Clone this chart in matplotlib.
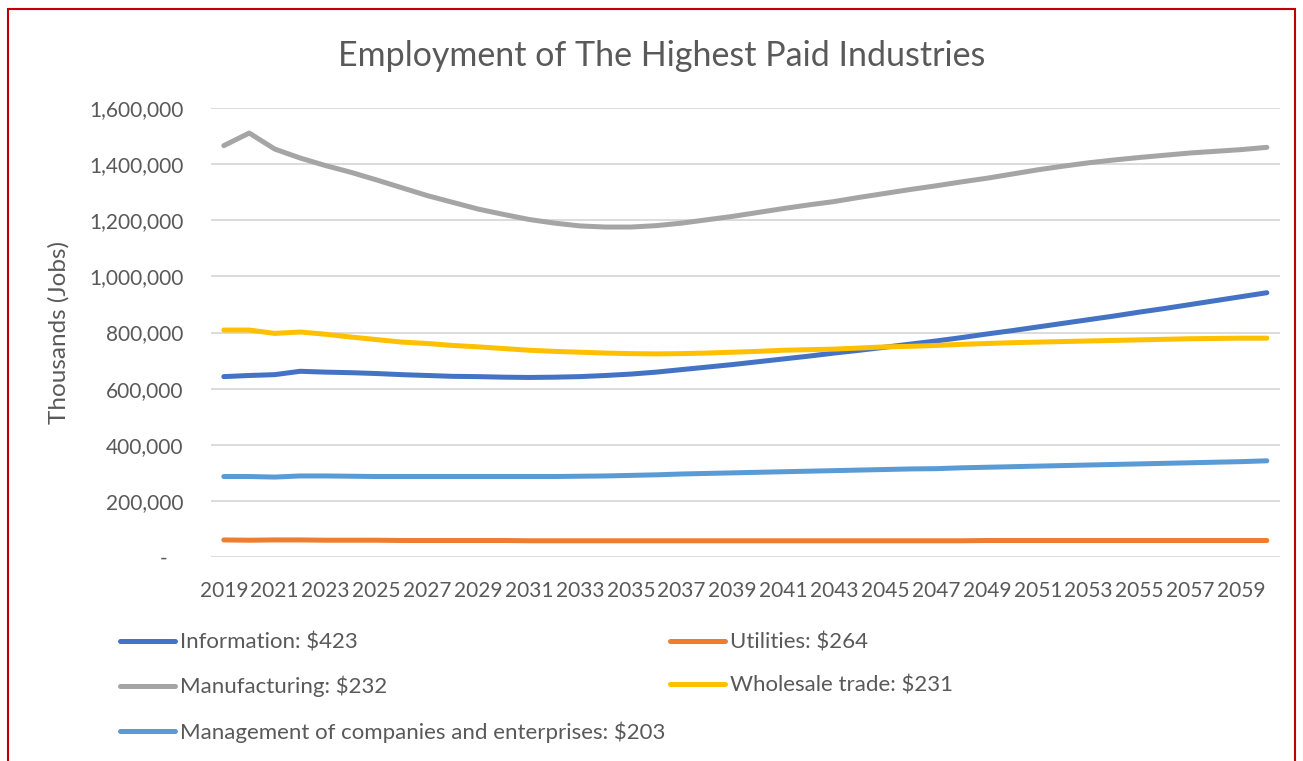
import matplotlib
matplotlib.use("Agg")
from matplotlib import pyplot as plt
from matplotlib.patches import Rectangle
from matplotlib.ticker import FuncFormatter

years = list(range(2019, 2061))

information = [643, 647, 650, 662, 659, 657, 654, 650, 647, 644, 643, 641, 640, 641, 643, 647,
               652, 659, 668, 677, 686, 696, 706, 716, 727, 737, 748, 759, 770, 782, 795, 807,
               820, 833, 846, 859, 873, 886, 900, 914, 928, 942]
utilities = [61, 60, 61, 61, 60, 60, 60, 59, 59, 59, 59, 59, 58, 58, 58, 58,
             58, 58, 58, 58, 58, 58, 58, 58, 58, 58, 58, 58, 58, 58, 59, 59,
             59, 59, 59, 59, 59, 59, 59, 59, 59, 59]
manufacturing = [1466, 1511, 1454, 1422, 1395, 1371, 1344, 1316, 1288, 1264, 1240, 1221, 1203, 1190,
                 1180, 1176, 1176, 1181, 1190, 1202, 1214, 1228, 1242, 1255, 1267, 1282, 1296, 1310,
                 1323, 1337, 1350, 1365, 1380, 1393, 1405, 1415, 1424, 1432, 1440, 1446, 1452, 1460]
wholesale = [809, 809, 797, 802, 794, 784, 775, 766, 761, 754, 749, 743, 737, 733, 730, 727,
             725, 724, 725, 727, 730, 733, 737, 739, 741, 745, 749, 751, 754, 758, 761, 764,
             766, 768, 770, 772, 774, 776, 778, 779, 780, 780]
management = [287, 287, 285, 289, 289, 288, 287, 287, 287, 287, 287, 287, 287, 287, 288, 289,
              291, 293, 296, 298, 300, 302, 304, 306, 308, 310, 312, 314, 315, 318, 320, 322,
              324, 326, 328, 330, 332, 334, 336, 338, 340, 343]

series = [
    ("Information: $423", information, "#4472C4"),
    ("Utilities: $264", utilities, "#ED7D31"),
    ("Manufacturing: $232", manufacturing, "#A5A5A5"),
    ("Wholesale trade: $231", wholesale, "#FFC000"),
    ("Management of companies and enterprises: $203", management, "#5B9BD5"),
]

text_color = "#595959"
plt.rcParams["font.family"] = ["Lato", "DejaVu Sans"]

fig = plt.figure(figsize=(13.03, 7.61), dpi=100)
ax = fig.add_axes([0.162, 0.268, 0.82, 0.59])

x = list(range(len(years)))
lines = {}
for label, values, color in series:
    (ln,) = ax.plot(x, [v * 1000 for v in values], color=color, lw=3.6,
                    solid_capstyle="round", solid_joinstyle="round", label=label)
    lines[label] = ln

ax.set_xlim(-0.5, len(years) - 0.5)
ax.set_ylim(0, 1600000)
ax.set_yticks(range(0, 1600001, 200000))
ax.yaxis.set_major_formatter(FuncFormatter(lambda v, p: "-   " if v == 0 else f"{int(v):,}"))
ax.set_xticks(x[::2])
ax.set_xticklabels([str(y) for y in years[::2]])
ax.tick_params(length=0, labelsize=15, labelcolor=text_color)
ax.tick_params(axis="x", pad=17)
ax.tick_params(axis="y", pad=20)
ax.grid(axis="y", color="#D9D9D9", lw=1.3)
ax.set_axisbelow(True)
for s in ax.spines.values():
    s.set_visible(False)

ax.set_ylabel("Thousands (Jobs)", fontsize=17.5, color=text_color)
ax.yaxis.set_label_coords(-0.132, 0.5)
fig.text(0.508, 0.926, "Employment of The Highest Paid Industries", ha="center", va="center",
         fontsize=24.5, color=text_color)

col1 = [lines[series[i][0]] for i in (0, 2, 4)]
col2 = [lines[series[i][0]] for i in (1, 3)]
common = dict(frameon=False, fontsize=16, labelcolor=text_color, handlelength=2.5,
              handletextpad=0.22, labelspacing=1.06, borderaxespad=0, borderpad=0)
leg1 = fig.legend(handles=col1, loc="upper left", bbox_to_anchor=(0.092, 0.169), **common)
leg2 = fig.legend(handles=col2, loc="upper left", bbox_to_anchor=(0.514, 0.169), **common)

fig.patches.append(Rectangle((0.006, -0.05), 0.988, 1.038, transform=fig.transFigure,
                             fill=False, edgecolor="#C00000", lw=1.5))

fig.savefig("out.png", dpi=100)
